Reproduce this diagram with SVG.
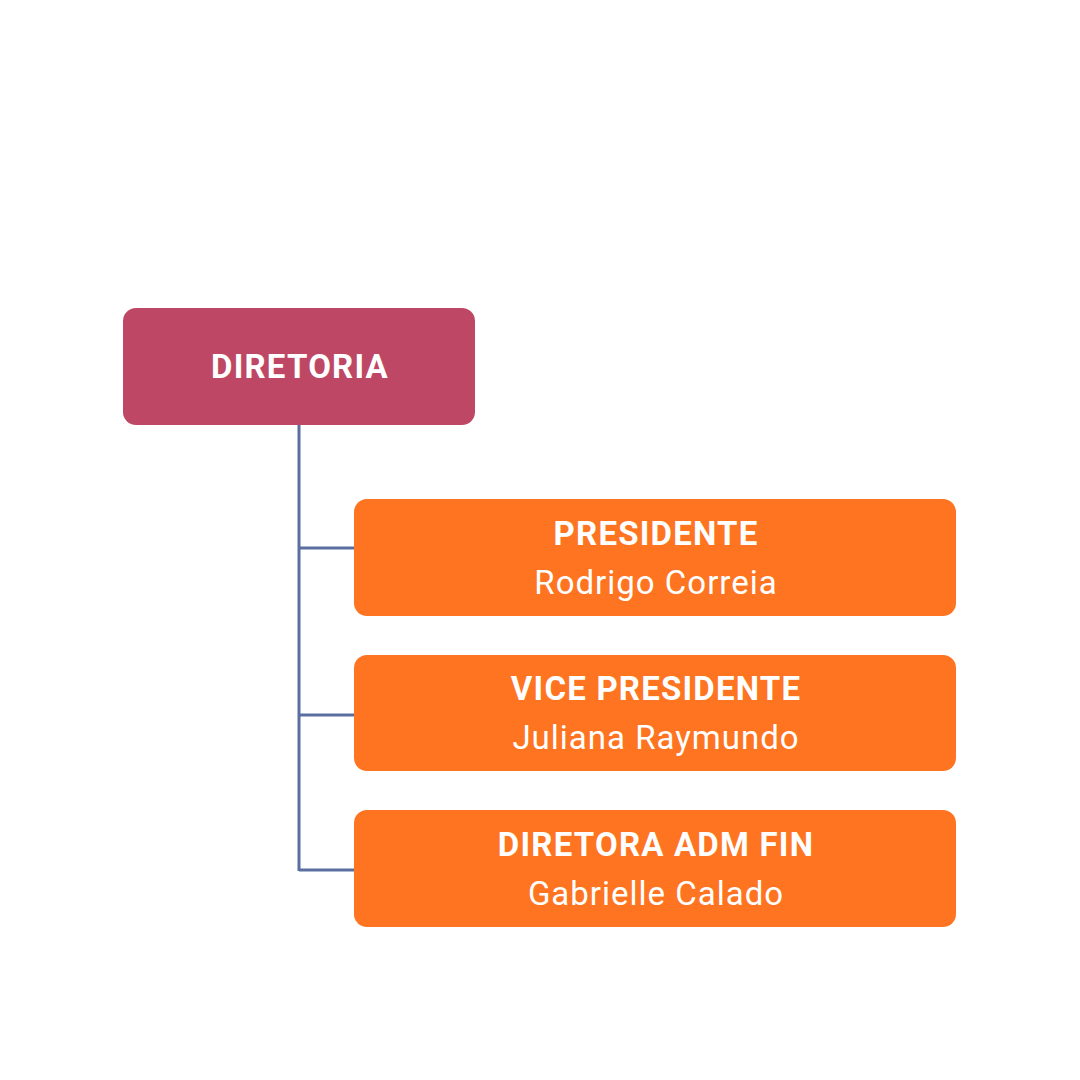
<svg xmlns="http://www.w3.org/2000/svg" width="1080" height="1080" viewBox="0 0 1080 1080">
<style>
.root{fill:#BE4765}
.box{fill:#FE7420}
.t{font-family:Roboto,"Liberation Sans",sans-serif;fill:#fff;text-anchor:middle}
.b{font-weight:bold;font-size:33px;letter-spacing:1.2px}
.n{font-size:33px;letter-spacing:1px}
.ln{stroke:#5A6EA0;stroke-width:3;fill:none}
</style>
<rect width="1080" height="1080" fill="#fff"/>
<g id="connectors">
<path class="ln" d="M299,425 V871 M299,548 H355 M299,715 H355 M299,870 H355"/>
</g>
<g id="diretoria">
<rect class="root" x="123" y="308" width="352" height="117" rx="13"/>
<text class="t b" x="300" y="378">DIRETORIA</text>
</g>
<g id="presidente">
<rect class="box" x="354" y="499" width="602" height="117" rx="13"/>
<text class="t b" x="656" y="545">PRESIDENTE</text>
<text class="t n" x="656" y="594">Rodrigo Correia</text>
</g>
<g id="vice">
<rect class="box" x="354" y="655" width="602" height="116" rx="13"/>
<text class="t b" x="656" y="700">VICE PRESIDENTE</text>
<text class="t n" x="656" y="749">Juliana Raymundo</text>
</g>
<g id="diretora">
<rect class="box" x="354" y="810" width="602" height="117" rx="13"/>
<text class="t b" x="656" y="856">DIRETORA ADM FIN</text>
<text class="t n" x="656" y="905">Gabrielle Calado</text>
</g>
</svg>
